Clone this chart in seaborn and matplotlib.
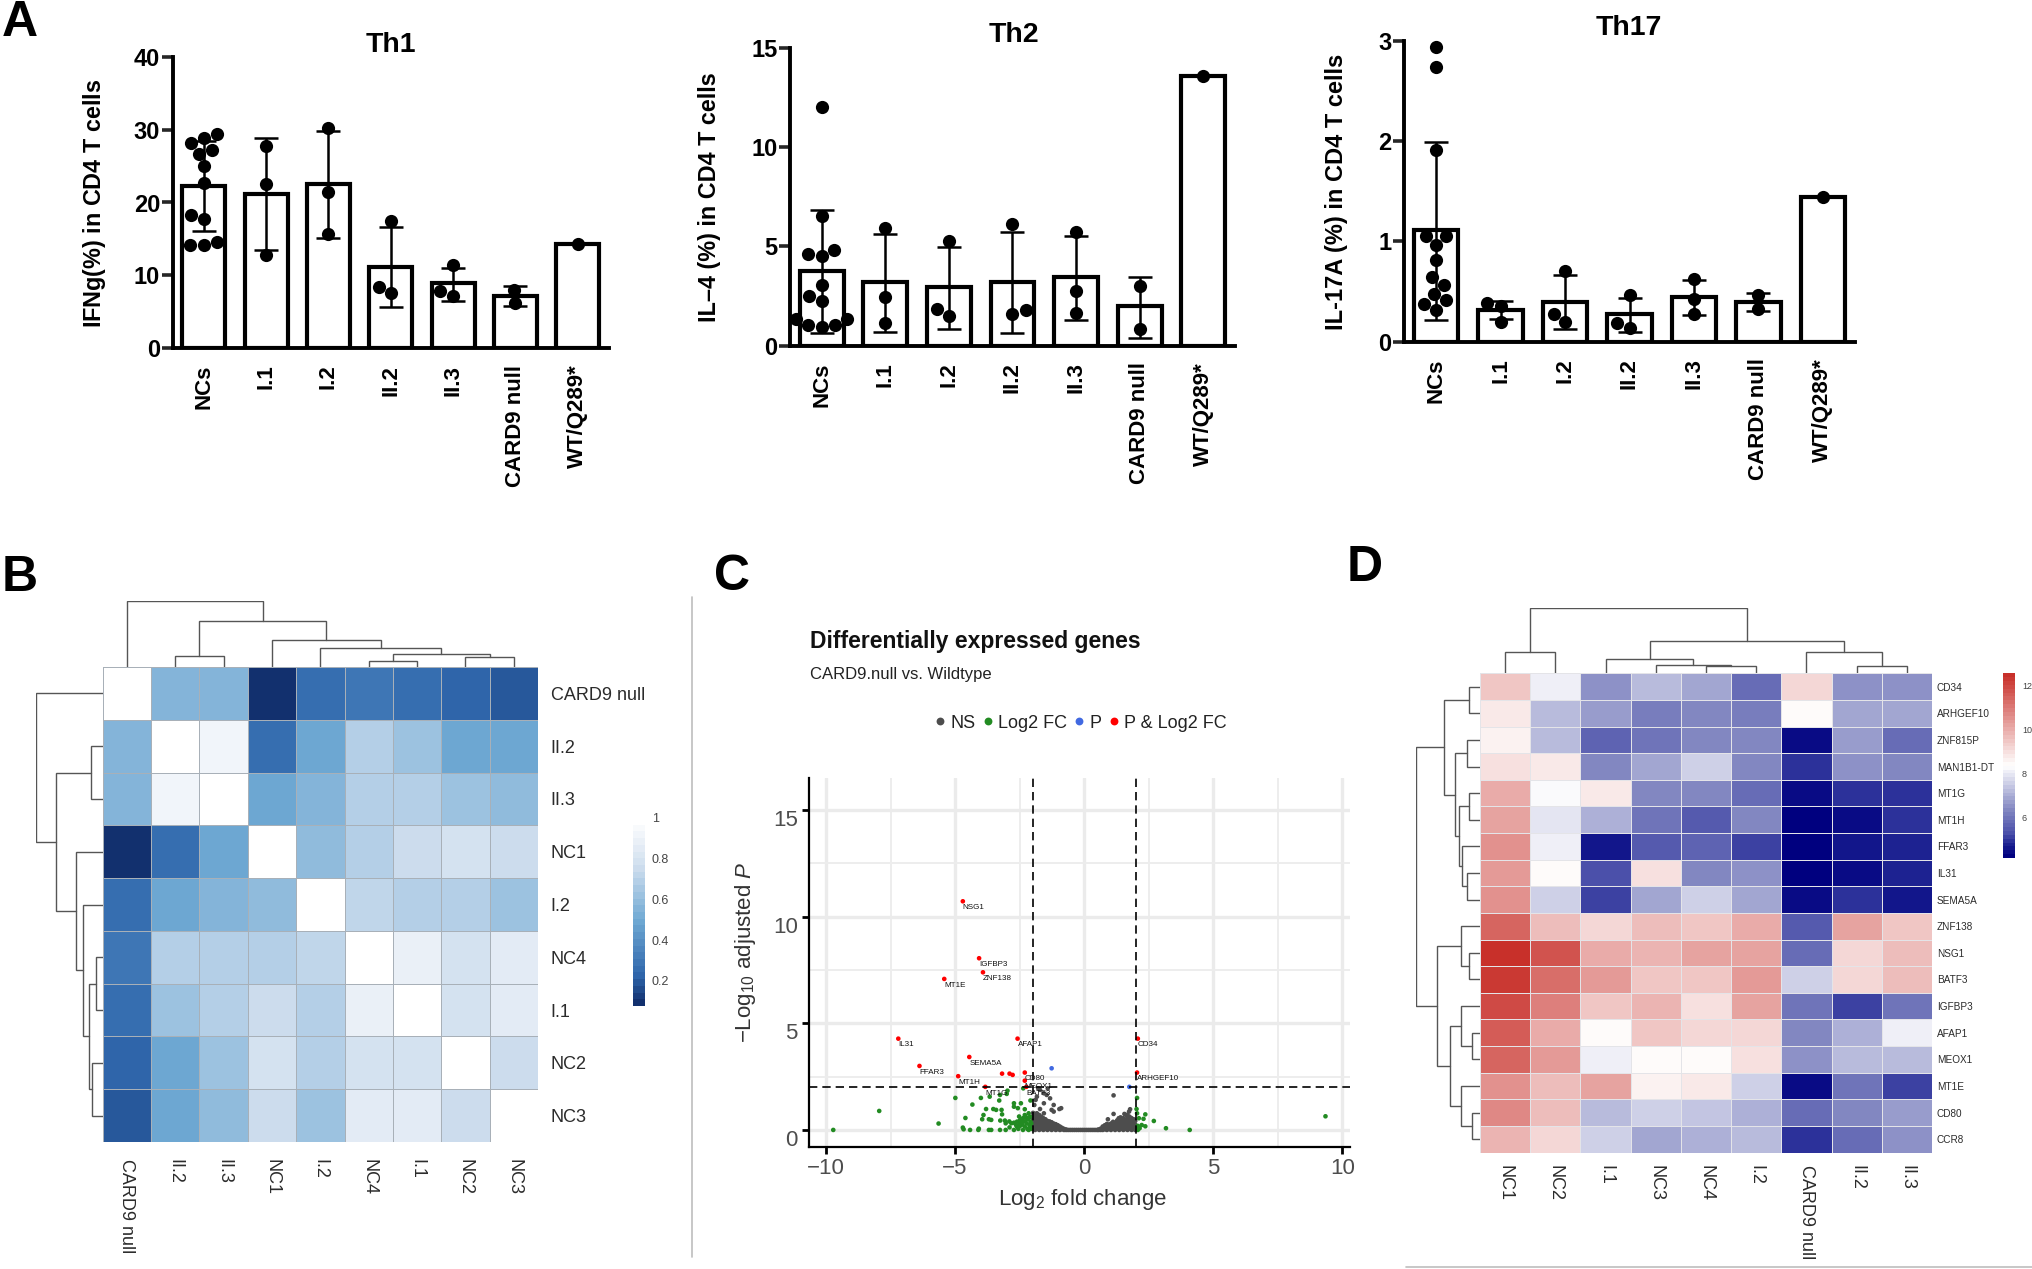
import numpy as np
import pandas as pd
import matplotlib
matplotlib.use('Agg')
import matplotlib.pyplot as plt
from matplotlib.colors import LinearSegmentedColormap
from matplotlib.lines import Line2D
from matplotlib.transforms import ScaledTranslation
import seaborn as sns

W, H = 2032, 1269

# Panel A, flow cytometry bars
groups = ['NCs', 'I.1', 'I.2', 'II.2', 'II.3', 'CARD9 null', 'WT/Q289*']

th1_mean = [22.3, 21.2, 22.5, 11.2, 8.9, 7.2, 14.35]
th1_low = [16.1, 13.5, 15.1, 5.7, 6.4, 5.8, np.nan]
th1_high = [28.5, 28.8, 29.8, 16.7, 11.05, 8.5, np.nan]
th1_points = [[29.45, 28.8, 28.2, 27.2, 26.7, 25, 22.7, 18.3, 17.7, 14.6, 14.1, 14.1],
              [27.8, 22.5, 12.8], [30.2, 21.5, 15.7], [17.5, 8.35, 7.5],
              [11.4, 7.85, 7.2], [8, 6.2], [14.35]]

th2_mean = [3.74, 3.2, 2.94, 3.2, 3.44, 1.98, 13.6]
th2_low = [0.62, 0.7, 0.82, 0.62, 1.3, 0.4, np.nan]
th2_high = [6.83, 5.62, 4.95, 5.74, 5.5, 3.47, np.nan]
th2_points = [[12, 6.53, 4.8, 4.6, 4.5, 3.05, 2.5, 2.25, 1.35, 1.35, 1.05, 1.05, 0.95],
              [5.9, 2.43, 1.16], [5.25, 1.83, 1.49], [6.12, 1.8, 1.58],
              [5.74, 2.77, 1.66], [3.02, 0.82], [13.6]]

th17_mean = [1.11, 0.32, 0.40, 0.276, 0.45, 0.40, 1.44]
th17_low = [0.22, 0.226, 0.126, 0.1, 0.27, 0.306, np.nan]
th17_high = [1.99, 0.41, 0.66, 0.44, 0.615, 0.49, np.nan]
th17_points = [[2.94, 2.74, 1.91, 1.05, 1.05, 0.96, 0.81, 0.64, 0.57, 0.48, 0.415, 0.38, 0.32],
               [0.39, 0.36, 0.2], [0.70, 0.28, 0.2], [0.47, 0.19, 0.14],
               [0.62, 0.43, 0.28], [0.465, 0.325], [1.44]]

# Panel B, correlation matrix
b_labels = ['CARD9 null', 'II.2', 'II.3', 'NC1', 'I.2', 'NC4', 'I.1', 'NC2', 'NC3']
b_matrix = [[1.00, .55, .55, .05, .25, .28, .25, .22, .20],
            [.55, 1.00, .92, .25, .50, .68, .62, .50, .50],
            [.55, .92, 1.00, .48, .55, .70, .70, .62, .58],
            [.05, .25, .48, 1.00, .58, .68, .75, .78, .75],
            [.25, .50, .55, .58, 1.00, .72, .70, .70, .62],
            [.28, .68, .70, .68, .72, 1.00, .88, .80, .85],
            [.25, .62, .70, .75, .70, .88, 1.00, .80, .85],
            [.22, .50, .62, .78, .70, .80, .80, 1.00, .75],
            [.20, .50, .58, .75, .62, .85, .85, .75, 1.00]]
# (left node, right node, height), new nodes are numbered after the leaves
b_tree = [(1, 2, 25), (5, 6, 14), (7, 8, 23), (10, 11, 29), (4, 12, 42),
          (3, 13, 59), (9, 14, 102), (0, 15, 145)]

# Panel C, volcano plot
gene_names = ['NSG1', 'IGFBP3', 'ZNF138', 'MT1E', 'IL31', 'AFAP1', 'CD34', 'SEMA5A', 'FFAR3',
              'MT1H', 'CD80', 'ARHGEF10', 'MEOX1', 'BATF3', 'MT1G']
gene_fc = [-4.7, -4.07, -3.92, -5.42, -7.2, -2.58, 2.08, -4.45, -6.38,
           -4.88, -2.3, 2.05, -2.3, -2.24, -3.83]
gene_p = [10.72, 8.05, 7.39, 7.08, 4.28, 4.28, 4.28, 3.42, 3.0,
          2.52, 2.69, 2.69, 2.31, 2.02, 2.02]
red_fc = gene_fc + [-3.18, -2.89, -2.77]
red_p = gene_p + [2.64, 2.64, 2.58]
blue_fc = [-1.26, 1.75]
blue_p = [2.89, 2.02]
green_fc = [-9.72, -7.94, -5.64, -4.99, 9.35, 4.09, 3.17, 2.7, 2.37, 2.37, 2.05, 2.03,
            -4.33, -4.0, -3.66, -3.26, -2.97, -3.0, -3.29, -3.8, -3.52, -3.41, -3.2, -3.18,
            -4.6, -3.9, -3.95, -3.69, -3.6, -3.25, -3.07, -3.04, -4.7, -4.67, -4.42, -4.08,
            -4.1, -3.69, -3.6, -3.26, -3.04, -2.89, -2.72, -2.82, -2.72, -2.6, -2.48, -2.37,
            -2.52, -2.3, -2.15, -2.72, -2.45, -2.72, -2.57, -2.3, -2.08, -2.36, -2.15, -2.23,
            -2.12, -2.3, -2.37, -2.15, -2.08, -2.64, -2.48, -2.9, -2.6, -2.5, -2.4, -2.3,
            -2.2, -2.1, -2.25, -2.42, -2.1, -2.2, -2.05, -2.05, -2.55,
            2.05, 2.12, 2.3, 2.08, 2.15, 2.23, 2.08]
green_p = [0, .89, .3, 1.5, .64, 0, .08, .42, .73, .17, 1.5, .98,
           1.19, 1.5, 1.56, 1.64, 1.84, 1.69, 1.38, .98, .98, .94, .94, .73,
           .56, .7, .5, .5, .47, .44, .44, .31, .11, .03, 0, .06,
           0, 0, 0, 0, 0, .12, 0, .31, .34, .39, .47, .55,
           .63, .7, .78, 1.25, 1.25, 1.09, 1.02, .97, 1.38, 1.95, .55, .31,
           .23, .16, 0, 0, .39, .23, .19, .4, .15, .3, .25, .4,
           .5, .62, .6, .4, .12, .05, .3, .05, .05,
           .78, .55, .52, .19, .08, .23, 0]
grey_columns = {
    -1.98: [.05, .2, .35, .5, .65, .8], -1.9: [0, .15, .3, .45, .6, .75],
    -1.82: [.05, .2, .35, .5, .65], -1.74: [0, .15, .3, .45, .6, .7],
    -1.66: [.05, .2, .35, .5, .62], -1.58: [0, .15, .3, .45, .55],
    -1.5: [.05, .2, .35, .5], -1.42: [0, .15, .3, .42], -1.34: [.05, .2, .33, .4],
    -1.26: [0, .12, .25, .36], -1.18: [.05, .18, .3], -1.1: [0, .1, .2, .27],
    -1.02: [.04, .14, .22], -.94: [0, .08, .16], -.86: [.03, .1], -.78: [0, .05], -.7: [0, .02],
    -.62: [0], -.54: [0], -.46: [0], -.38: [0], -.3: [0], -.22: [0], -.14: [0], -.06: [0],
    .02: [0], .1: [0], .18: [0], .26: [0], .34: [0], .42: [0], .5: [0],
    .56: [0, .02], .64: [0, .06], .72: [0, .1, .16], .8: [.03, .12, .22], .88: [0, .08, .18, .28],
    .96: [.04, .14, .25], 1.04: [0, .1, .2, .3], 1.12: [.05, .15, .28, .38], 1.2: [0, .1, .22, .34],
    1.28: [.05, .18, .3, .45], 1.36: [0, .12, .25, .4], 1.44: [.05, .18, .32, .5],
    1.52: [0, .12, .25, .4, .55], 1.6: [.05, .18, .32, .48], 1.68: [0, .12, .25, .4, .55, .7],
    1.76: [.05, .18, .32, .48, .62], 1.84: [0, .12, .25, .4, .55], 1.92: [.05, .18, .32, .5],
    1.98: [0, .12, .25, .42]}
grey_extra_fc = [-1.93, -1.83, -1.71, -1.56, -1.45, -1.32, -1.88, -1.78, -1.41, -1.56, -1.18, -.89,
                 -1.26, -1.71, -1.83, -1.56, -1.18, -.96, 1.14, 1.14, 1.78, 1.56, 1.63, 1.74, 1.34, 1.41, .92]
grey_extra_p = [1.17, 1.56, 1.88, 1.72, 1.64, 1.48, 1.41, 1.95, 1.95, 1.25, 1.17, 1.02,
                .94, .98, .78, .78, .86, .98, 1.62, .75, .97, .75, .7, .86, .55, .59, .5]

# Panel D, expression heatmap
d_cols = ['NC1', 'NC2', 'I.1', 'NC3', 'NC4', 'I.2', 'CARD9 null', 'II.2', 'II.3']
d_rows = ['CD34', 'ARHGEF10', 'ZNF815P', 'MAN1B1-DT', 'MT1G', 'MT1H', 'FFAR3', 'IL31', 'SEMA5A',
          'ZNF138', 'NSG1', 'BATF3', 'IGFBP3', 'AFAP1', 'MEOX1', 'MT1E', 'CD80', 'CCR8']
d_matrix = [[9.4, 8.1, 6.6, 7.2, 6.9, 5.9, 9.2, 6.5, 6.5],
            [8.8, 7.2, 6.7, 6.1, 6.3, 6.2, 8.35, 6.9, 6.9],
            [8.6, 7.3, 5.6, 6.0, 6.3, 6.3, 4.5, 6.7, 5.9],
            [9.0, 8.8, 6.3, 6.8, 7.6, 6.3, 5.0, 6.5, 6.3],
            [10.0, 8.2, 8.8, 6.4, 6.4, 5.9, 4.5, 4.9, 4.9],
            [10.1, 8.0, 7.0, 6.0, 5.5, 6.3, 4.3, 4.4, 4.9],
            [10.6, 8.1, 4.6, 5.5, 5.6, 5.2, 4.2, 4.6, 4.8],
            [10.3, 8.4, 5.3, 8.9, 6.3, 6.6, 4.16, 4.4, 4.8],
            [10.5, 7.6, 5.2, 6.9, 7.5, 6.9, 4.4, 5.0, 4.6],
            [11.4, 9.7, 9.2, 9.6, 9.5, 10.0, 5.4, 10.2, 9.5],
            [12.4, 11.7, 10.0, 9.9, 10.2, 10.2, 5.9, 9.1, 9.6],
            [12.2, 11.3, 10.3, 9.5, 9.5, 10.4, 7.5, 9.1, 9.6],
            [12.0, 10.9, 9.5, 9.9, 9.0, 10.1, 6.0, 5.2, 6.0],
            [11.5, 10.0, 8.35, 9.4, 9.1, 9.2, 6.3, 7.1, 8.1],
            [11.4, 10.4, 8.1, 8.5, 8.4, 9.0, 6.6, 7.3, 7.3],
            [10.6, 9.7, 10.2, 8.6, 8.8, 7.5, 4.5, 6.0, 5.2],
            [10.7, 9.6, 7.2, 7.5, 7.4, 7.1, 5.9, 6.4, 6.7],
            [9.8, 9.1, 7.6, 6.8, 7.1, 7.3, 5.0, 5.9, 6.6]]
d_col_tree = [(0, 1, 50), (4, 5, 17), (3, 10, 20), (2, 11, 34), (7, 8, 17), (6, 13, 50),
              (12, 14, 77), (9, 15, 154)]
d_row_tree = [(0, 1, 26), (2, 3, 31), (4, 5, 28), (7, 8, 33), (6, 21, 45), (20, 22, 51),
              (19, 23, 61), (18, 24, 88), (10, 11, 26), (9, 26, 48), (13, 14, 20), (12, 28, 48),
              (16, 17, 20), (15, 30, 48), (29, 31, 73), (27, 32, 105), (25, 33, 158)]

sns.set_theme(style='white')
plt.rcParams['font.family'] = ['Liberation Sans', 'DejaVu Sans']
plt.rcParams['mathtext.fontset'] = 'custom'
plt.rcParams['mathtext.rm'] = 'Liberation Sans'
plt.rcParams['mathtext.it'] = 'Liberation Sans:italic'
plt.rcParams['mathtext.bf'] = 'Liberation Sans:bold'

fig = plt.figure(figsize=(W / 100, H / 100), dpi=100, facecolor='white')


def px_axes(x0, y0, x1, y1):
    # axes from pixel corners, y counted from the top of the picture
    return fig.add_axes([x0 / W, 1 - y1 / H, (x1 - x0) / W, (y1 - y0) / H])


def px_text(x, y, s, **kw):
    kw.setdefault('ha', 'center')
    kw.setdefault('va', 'center')
    return fig.text(x / W, 1 - y / H, s, **kw)


def plot_bars(rect, mean, low, high, points, ymax, ticks, title, title_xy, ylabel, ylabel_xy, ylabel_size):
    ax = px_axes(*rect)
    sns.barplot(x=groups, y=mean, order=groups, color='white', edgecolor='black', saturation=1,
                linewidth=3.0, width=0.69, errorbar=None, ax=ax)
    pos = np.arange(len(groups))
    mean_a, low_a, high_a = np.array(mean), np.array(low), np.array(high)
    ax.errorbar(pos, mean_a, yerr=[mean_a - low_a, high_a - mean_a], fmt='none', ecolor='black',
                elinewidth=1.8, capsize=8.5, capthick=1.8, zorder=3)
    long = pd.DataFrame({'group': [g for g, p in zip(groups, points) for _ in p],
                         'value': [v for p in points for v in p]})
    sns.swarmplot(data=long, x='group', y='value', order=groups, color='black', size=9.5,
                  zorder=4, clip_on=False, warn_thresh=1, ax=ax)
    ax.set_xlim(-0.5, 6.5)
    ax.set_ylim(0, ymax)
    ax.set_yticks(ticks, [str(t) for t in ticks], fontweight='bold')
    ax.set_xticks(pos, groups, rotation=90, fontweight='bold')
    ax.set_xlabel('')
    ax.set_ylabel('')
    ax.tick_params(axis='y', length=8, width=2.6, labelsize=17, pad=1, left=True, labelcolor='black')
    ax.tick_params(axis='x', length=0, labelsize=16, pad=12, labelcolor='black')
    sns.despine(ax=ax)
    for side in ['left', 'bottom']:
        ax.spines[side].set_linewidth(2.8)
        ax.spines[side].set_color('black')
    px_text(*title_xy, title, fontsize=20.5, fontweight='bold', color='black')
    px_text(*ylabel_xy, ylabel, fontsize=ylabel_size, fontweight='bold', rotation=90, color='black')
    return ax


plot_bars((172.6, 57, 609, 348), th1_mean, th1_low, th1_high, th1_points, 40, [0, 10, 20, 30, 40],
          'Th1', (390.6, 45), r'IFN$\mathregular{g}$(%) in CD4 T cells', (95, 203), 16.8)
plot_bars((790, 47.7, 1235, 345.7), th2_mean, th2_low, th2_high, th2_points, 15, [0, 5, 10, 15],
          'Th2', (1013.8, 35), 'IL\u20134 (%) in CD4 T cells', (709.5, 197), 16.8)
plot_bars((1404, 40.7, 1855, 341.7), th17_mean, th17_low, th17_high, th17_points, 3, [0, 1, 2, 3],
          'Th17', (1629, 28), 'IL-17A (%) in CD4 T cells', (1336, 192), 17)


def draw_tree(ax, merges, n, side, top):
    # merges hold heights, x comes from the leaf order
    where = {i: i + 0.5 for i in range(n)}
    height = {i: 0 for i in range(n)}
    for k, (a, b, h) in enumerate(merges):
        xs = [where[a], where[a], where[b], where[b]]
        hs = [height[a], h, h, height[b]]
        if side == 'top':
            ax.plot(xs, hs, color='#555555', lw=1.0, solid_joinstyle='miter')
        else:
            ax.plot(hs, xs, color='#555555', lw=1.0, solid_joinstyle='miter')
        where[n + k] = (where[a] + where[b]) / 2
        height[n + k] = h
    if side == 'top':
        ax.set_xlim(0, n)
        ax.set_ylim(0, top)
    else:
        ax.set_xlim(top, 0)
        ax.set_ylim(n, 0)
    ax.axis('off')


def plot_heat(rect, matrix, rows, cols, cmap, vmin, vmax, lw, linecolor, cbar_rect, cbar_ticks,
              cbar_labels, cbar_size, row_size, col_size, row_pad, col_pad):
    ax = px_axes(*rect)
    cax = px_axes(*cbar_rect)
    table = pd.DataFrame(matrix, index=rows, columns=cols)
    sns.heatmap(table, ax=ax, cbar_ax=cax, cmap=cmap, vmin=vmin, vmax=vmax, linewidths=lw,
                linecolor=linecolor, square=False, cbar_kws={'ticks': cbar_ticks})
    ax.yaxis.tick_right()
    ax.tick_params(axis='y', length=0, labelsize=row_size, pad=row_pad, labelcolor='#2b2b2b',
                   labelrotation=0)
    ax.tick_params(axis='x', length=0, labelsize=col_size, pad=col_pad, labelcolor='#2b2b2b')
    for lab in ax.get_xticklabels():
        lab.set_rotation(-90)
    ax.set_xlabel('')
    ax.set_ylabel('')
    cax.set_yticklabels(cbar_labels)
    cax.tick_params(length=0, labelsize=cbar_size, labelcolor='#444444', pad=5)
    ax.collections[0].colorbar.outline.set_visible(False)
    return ax


# Panel B
blues = LinearSegmentedColormap.from_list(
    'corr', [(0, '#12306e'), (0.15, '#2f66ab'), (0.45, '#6ea8d3'), (0.75, '#cfdeee'), (1, '#ffffff')], N=28)
plot_heat((102.7, 667, 538, 1142), b_matrix, b_labels, b_labels, blues, 0.076, 1, 0.5, '#a8b0b8',
          (633, 818, 645, 1006), [0.2, 0.4, 0.6, 0.8, 1], ['0.2', '0.4', '0.6', '0.8', '1'], 9,
          13, 13, 9, 12)
draw_tree(px_axes(102.7, 601, 538, 667), b_tree, 9, 'top', 145)
draw_tree(px_axes(36, 667, 102.7, 1142), b_tree, 9, 'left', 145)

# Panel C
volcano = pd.concat([
    pd.DataFrame({'fc': [x for x, ys in grey_columns.items() for _ in ys] + grey_extra_fc,
                  'p': [y for ys in grey_columns.values() for y in ys] + grey_extra_p, 'kind': 'NS'}),
    pd.DataFrame({'fc': green_fc, 'p': green_p, 'kind': 'Log2 FC'}),
    pd.DataFrame({'fc': blue_fc, 'p': blue_p, 'kind': 'P'}),
    pd.DataFrame({'fc': red_fc, 'p': red_p, 'kind': 'P & Log2 FC'})], ignore_index=True)
ax = px_axes(809, 778, 1350, 1147)
ax.set_axisbelow(True)
sns.scatterplot(data=volcano, x='fc', y='p', hue='kind', s=11, linewidth=0, ax=ax,
                hue_order=['NS', 'Log2 FC', 'P', 'P & Log2 FC'],
                palette=['#4d4d4d', '#228b22', '#4169e1', '#ff0000'])
ax.set_xlim(-10.66, 10.3)
ax.set_ylim(-0.8, 16.5)
ax.set_xticks([-10, -5, 0, 5, 10])
ax.set_yticks([0, 5, 10, 15])
ax.set_xticks([-7.5, -2.5, 2.5, 7.5], minor=True)
ax.set_yticks([2.5, 7.5, 12.5], minor=True)
ax.grid(which='major', color='#ebebeb', lw=2.4)
ax.grid(which='minor', color='#ededed', lw=1.4)
ax.tick_params(which='major', length=5, width=2, color='black', labelsize=16, labelcolor='#4d4d4d',
               bottom=True, left=True, pad=3)
ax.tick_params(which='minor', length=0)
# the y numbers sit a little under their ticks in the original
for lab in ax.get_yticklabels():
    lab.set_transform(lab.get_transform() + ScaledTranslation(0, -0.08, fig.dpi_scale_trans))
ax.axvline(-2, color='black', lw=1.2, dashes=(5, 3))
ax.axvline(2, color='black', lw=1.2, dashes=(5, 3))
ax.axhline(2, color='black', lw=1.2, dashes=(5, 3))
for name, fc, p in zip(gene_names, gene_fc, gene_p):
    ax.annotate(name, (fc, p), xytext=(0, -4.5), textcoords='offset points', fontsize=5.8,
                ha='left', va='center', color='#111111')
sns.despine(ax=ax)
ax.spines['left'].set_linewidth(1.6)
ax.spines['bottom'].set_linewidth(1.6)
ax.spines['left'].set_color('black')
ax.spines['bottom'].set_color('black')
ax.set_xlabel('')
ax.set_ylabel('')
handles, labels = ax.get_legend_handles_labels()
ax.legend(handles, labels, ncol=4, loc='center', bbox_to_anchor=(0.503, 1.149), frameon=False,
          fontsize=13, markerscale=1.7, columnspacing=0.45, handlelength=0.5, handletextpad=0.3,
          labelcolor='#222222')
px_text(746, 952, r'$-\mathrm{Log}_{10}$ adjusted $\mathit{P}$', fontsize=16, rotation=90, color='#333333')
px_text(1082, 1199, r'$\mathrm{Log}_{2}$ fold change', fontsize=16, color='#333333')
px_text(810, 642, 'Differentially expressed genes', fontsize=16.5, fontweight='bold', ha='left', color='#111111')
px_text(810, 674, 'CARD9.null vs. Wildtype', fontsize=12, ha='left', color='#222222')

# Panel D
bwr = LinearSegmentedColormap.from_list(
    'expr', [(0, '#00007f'), (0.06, '#1a1f90'), (0.13, '#4d52ab'), (0.25, '#7f84c0'),
             (0.5, '#ffffff'), (1, '#c8302a')], N=48)
plot_heat((1480, 673.4, 1932, 1152.5), d_matrix, d_rows, d_cols, bwr, 4.16, 12.54, 0.5, '#e4e4e8',
          (2003, 673.4, 2015, 858), [6, 8, 10, 12], ['6', '8', '10', '12'], 6.5,
          7.2, 13, 3.5, 9)
draw_tree(px_axes(1480, 607.7, 1932, 673.4), d_col_tree, 9, 'top', 154)
draw_tree(px_axes(1416, 673.4, 1480, 1152.5), d_row_tree, 18, 'left', 158)

# Panel letters and the thin separators
for letter, x, y in [('A', 20, 23), ('B', 20, 578), ('C', 732, 577), ('D', 1365, 568)]:
    px_text(x, y, letter, fontsize=36, fontweight='bold', color='black')
fig.add_artist(Line2D([692 / W, 692 / W], [1 - 597 / H, 1 - 1257 / H], color='#bdbdbd', lw=1.2))
fig.add_artist(Line2D([1406 / W, 1], [1 - 1267 / H, 1 - 1267 / H], color='#bdbdbd', lw=1.2))

fig.savefig('out.png', dpi=100)
